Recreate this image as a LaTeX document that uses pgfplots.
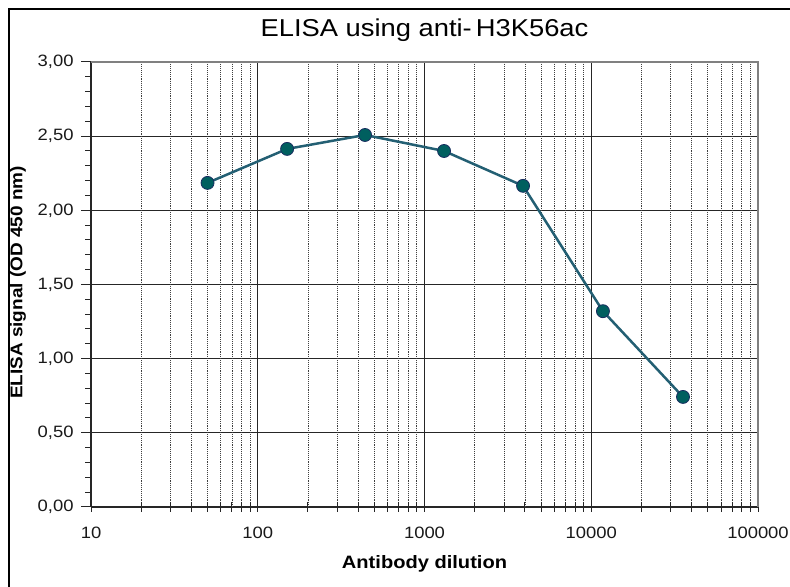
\documentclass[border=0pt]{standalone}
\usepackage{fontspec}
\setmainfont{Liberation Sans}[FakeStretch=1.12]
\usepackage{pgfplots}
\pgfplotsset{compat=1.18}
\definecolor{linec}{RGB}{35,95,115}
\definecolor{markfill}{RGB}{0,95,95}
\definecolor{markedge}{RGB}{25,45,95}
\begin{document}
\begin{tikzpicture}[x=1bp,y=1bp]
\path[use as bounding box] (0,0) rectangle (790,587);
\draw[line width=2bp] (9,-10) -- (9,578) -- (800,578);
\begin{axis}[
  at={(91bp,80bp)}, anchor=south west,
  scale only axis, width=667bp, height=445bp,
  xmode=log, xmin=10, xmax=100000, ymin=0, ymax=3,
  axis x line=bottom, axis y line=left,
  axis line style={-, line width=1.6bp, black!85},
  xtick={10,100,1000,10000,100000},
  xticklabels={10,100,1000,10000,100000},
  extra x ticks={20,30,40,50,60,70,80,90,200,300,400,500,600,700,800,900,2000,3000,4000,5000,6000,7000,8000,9000,20000,30000,40000,50000,60000,70000,80000,90000},
  extra x tick labels={},
  extra x tick style={major grid style={densely dotted, black!75, line width=0.8bp}},
  ytick={0,0.5,1,1.5,2,2.5,3},
  minor y tick num=4,
  xmajorgrids, ymajorgrids,
  major grid style={black!85, line width=0.9bp},
  xtick align=center, ytick align=outside,
  major tick length=10bp, minor tick length=6bp,
  tick style={black!85, line width=1bp},
  /pgf/number format/fixed,
  /pgf/number format/fixed zerofill,
  /pgf/number format/precision=2,
  /pgf/number format/use comma,
  /pgf/number format/assume math mode=true,
  ticklabel style={font=\fontsize{16.5}{18}\selectfont, text=black!90},
  xticklabel style={yshift=-12bp},
  yticklabel style={xshift=-4bp},
  title={ELISA using anti-\,H3K56ac},
  title style={font=\fontsize{24.5}{27}\selectfont, at={(axis description cs:0.5,1)}, anchor=center, yshift=26bp},
  xlabel={\textbf{Antibody dilution}},
  xlabel style={font=\fontsize{18}{20}\selectfont, at={(axis description cs:0.5,0)}, anchor=center, yshift=-57bp},
  ylabel={\textbf{ELISA signal (OD 450 nm)}},
  ylabel style={font=\fontsize{17}{19}\selectfont, at={(axis description cs:0,0.5)}, anchor=center, yshift=73bp, xshift=2bp},
  clip=false,
]
\addplot[linec, line width=2.5bp, mark=*, mark size=6.5bp,
  mark options={fill=markfill, draw=markedge, line width=0.8bp}]
  coordinates {(50,2.185) (150,2.414) (440,2.508) (1310,2.40) (3900,2.165) (11750,1.32) (35500,0.742)};
\draw[black!50, line width=1.2bp] (axis cs:10,3) -- (axis cs:100000,3) -- (axis cs:100000,0);
\end{axis}
\end{tikzpicture}
\end{document}
